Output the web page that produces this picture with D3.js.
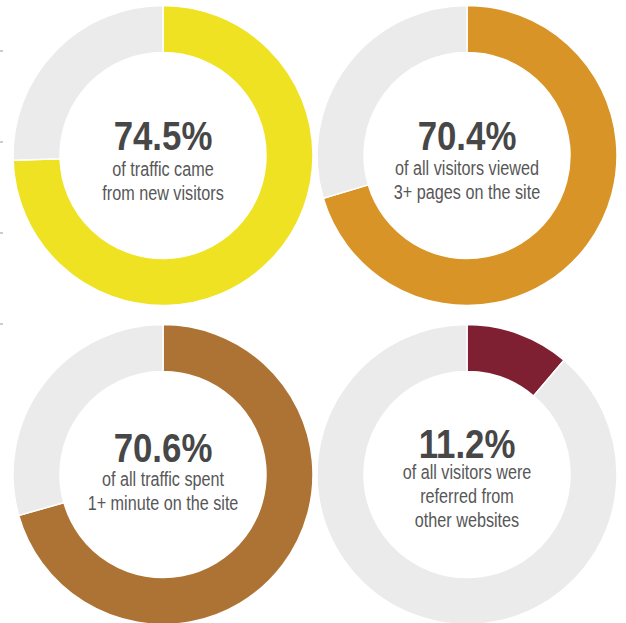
<!DOCTYPE html>
<html>
<head>
<meta charset="utf-8">
<script src="https://cdn.jsdelivr.net/npm/d3@7"></script>
<style>
  html, body { margin: 0; padding: 0; background: #fff; }
  svg { display: block; }
</style>
</head>
<body>
<svg id="chart" width="626" height="623"></svg>
<script>
// Share of visitors for each metric (percent)
const values = [74.5, 70.4, 70.6, 11.2];
const headlines = ["74.5%", "70.4%", "70.6%", "11.2%"];
const captions = [
  ["of traffic came", "from new visitors"],
  ["of all visitors viewed", "3+ pages on the site"],
  ["of all traffic spent", "1+ minute on the site"],
  ["of all visitors were", "referred from", "other websites"]
];
// Stray axis ticks along the left edge
const edgeTicks = [51, 142, 233, 324];

const fills = ["#efe222", "#d89426", "#ad7335", "#7e1f32"];
const restFill = "#ebebeb";

// Grid placement and text offsets for each donut
const layout = [
  { cx: 163, cy: 155.5, num: -6,    line1: 26 },
  { cx: 467, cy: 155.5, num: -5.5,  line1: 25 },
  { cx: 163, cy: 474.5, num: -12.5, line1: 24 },
  { cx: 467, cy: 474.5, num: -16.5, line1: 21 }
];

const outerR = 150, innerR = 103, lineStep = 24;
const font = "'Liberation Sans', Arial, sans-serif";
// Condensed look: squeeze glyphs horizontally
const numSquash = 0.87, capSquash = 0.81;

const svg = d3.select("#chart");

svg.append("g")
  .selectAll("line")
  .data(edgeTicks)
  .join("line")
  .attr("x1", 0).attr("x2", 3)
  .attr("y1", d => d).attr("y2", d => d)
  .attr("stroke", "#9a9a9a")
  .attr("stroke-width", 1);

const pie = d3.pie().sort(null).value(d => d.v);
const arc = d3.arc().innerRadius(innerR).outerRadius(outerR);

values.forEach((v, i) => {
  const L = layout[i];
  const g = svg.append("g").attr("transform", `translate(${L.cx},${L.cy})`);

  const parts = [{ v: v, fill: fills[i] }, { v: 100 - v, fill: restFill }];
  g.selectAll("path")
    .data(pie(parts))
    .join("path")
    .attr("d", arc)
    .attr("fill", d => d.data.fill)
    .attr("stroke", "#fff")
    .attr("stroke-width", 1.5);

  g.append("g")
    .attr("transform", `translate(0,${L.num}) scale(${numSquash},1)`)
    .append("text")
    .attr("text-anchor", "middle")
    .attr("font-family", font)
    .attr("font-weight", "bold")
    .attr("font-size", 40)
    .attr("fill", "#474747")
    .text(headlines[i]);

  captions[i].forEach((c, j) => {
    g.append("g")
      .attr("transform", `translate(0,${L.num + L.line1 + j * lineStep}) scale(${capSquash},1)`)
      .append("text")
      .attr("text-anchor", "middle")
      .attr("font-family", font)
      .attr("font-size", 20)
      .attr("fill", "#575757")
      .text(c);
  });
});
</script>
</body>
</html>
